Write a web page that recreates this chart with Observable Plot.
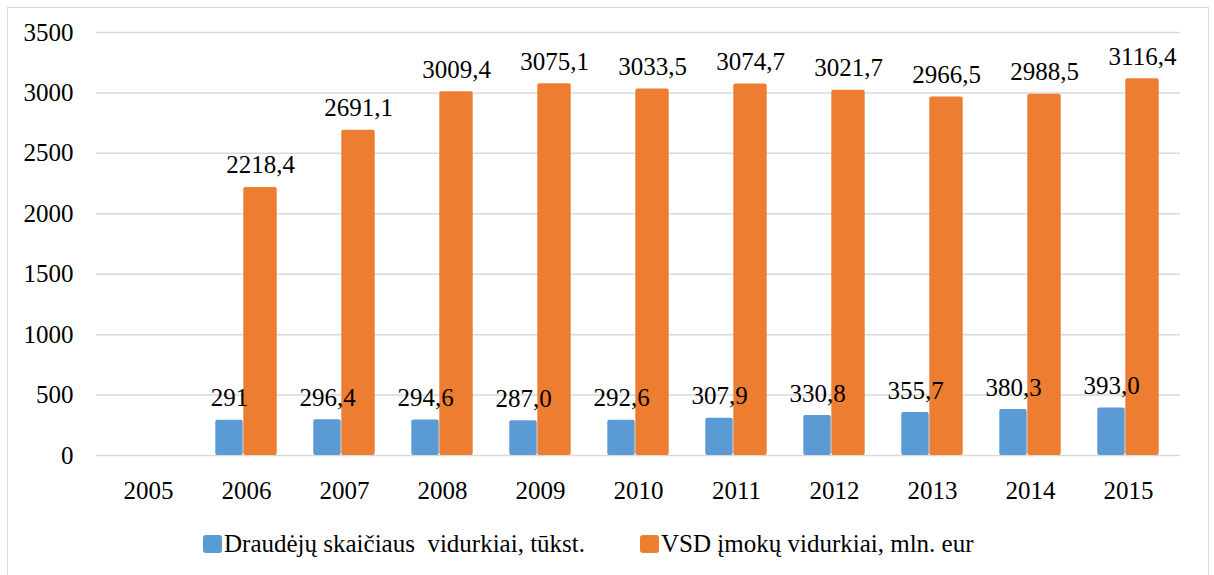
<!DOCTYPE html>
<html>
<head>
<meta charset="utf-8">
<script src="https://cdn.jsdelivr.net/npm/d3@7"></script>
<script src="https://cdn.jsdelivr.net/npm/@observablehq/plot@0.6"></script>
</head>
<body style="margin:0;padding:0;background:#fff;font-family:'Times New Roman',serif;font-size:25px">
<div id="frame" style="position:absolute;left:7px;top:7px;width:1202px;height:580px;border:1.5px solid #d9d9d9;box-sizing:border-box"></div>
<div id="chart" style="position:absolute;left:0;top:0"></div>
<div id="legend" style="position:absolute;top:530px;left:203px;font-size:25px;color:#000;white-space:pre;display:flex;align-items:center;font-family:'Times New Roman',serif"></div>
<script>
const years = ["2005","2006","2007","2008","2009","2010","2011","2012","2013","2014","2015"];
const seriesNames = ["Draudėjų skaičiaus  vidurkiai, tūkst.", "VSD įmokų vidurkiai, mln. eur"];
const colors = ["#5b9bd5", "#ed7d31"];
const insured = [null, 291, 296.4, 294.6, 287.0, 292.6, 307.9, 330.8, 355.7, 380.3, 393.0];
const insuredLabels = [null, "291", "296,4", "294,6", "287,0", "292,6", "307,9", "330,8", "355,7", "380,3", "393,0"];
const contributions = [null, 2218.4, 2691.1, 3009.4, 3075.1, 3033.5, 3074.7, 3021.7, 2966.5, 2988.5, 3116.4];
const contributionLabels = [null, "2218,4", "2691,1", "3009,4", "3075,1", "3033,5", "3074,7", "3021,7", "2966,5", "2988,5", "3116,4"];
const yTicks = [0, 500, 1000, 1500, 2000, 2500, 3000, 3500];

const FONT = "'Times New Roman', serif";
const blue = years.map((y, i) => ({year: y, value: insured[i], label: insuredLabels[i]})).filter(d => d.value != null);
const orange = years.map((y, i) => ({year: y, value: contributions[i], label: contributionLabels[i]})).filter(d => d.value != null);

const chart = Plot.plot({
  width: 1214,
  height: 520,
  marginTop: 32,
  marginBottom: 65,
  marginLeft: 96,
  marginRight: 34,
  style: {fontFamily: FONT, fontSize: "25px", color: "#000", background: "transparent"},
  x: {domain: years, padding: 0, label: null, tickSize: 0, tickPadding: 26},
  y: {domain: [0, 3500], ticks: yTicks, tickFormat: d => String(d), label: null, tickSize: 0, tickPadding: 23},
  marks: [
    Plot.ruleY(yTicks, {stroke: "#d9d9d9", strokeWidth: 1.5}),
    Plot.barY(blue, {x: "year", y: "value", fill: colors[0], insetLeft: 18.3, insetRight: 52.3, rx: 2}),
    Plot.barY(orange, {x: "year", y: "value", fill: colors[1], insetLeft: 46.3, insetRight: 18.3, rx: 2}),
    Plot.text(blue, {x: "year", y: "value", text: "label", dx: -17, dy: -22, fontSize: 25, fill: "#000"}),
    Plot.text(orange, {x: "year", y: "value", text: "label", dx: 14, dy: -22, fontSize: 25, fill: "#000"})
  ]
});
document.getElementById("chart").appendChild(chart);

const legend = document.getElementById("legend");
seriesNames.forEach((name, i) => {
  const sw = document.createElement("span");
  sw.style.cssText = "display:inline-block;width:19px;height:18px;border-radius:3px;margin-right:2px;background:" + colors[i] + (i === 1 ? ";margin-left:55px" : "");
  const t = document.createElement("span");
  t.textContent = name;
  legend.appendChild(sw);
  legend.appendChild(t);
});
</script>
</body>
</html>
